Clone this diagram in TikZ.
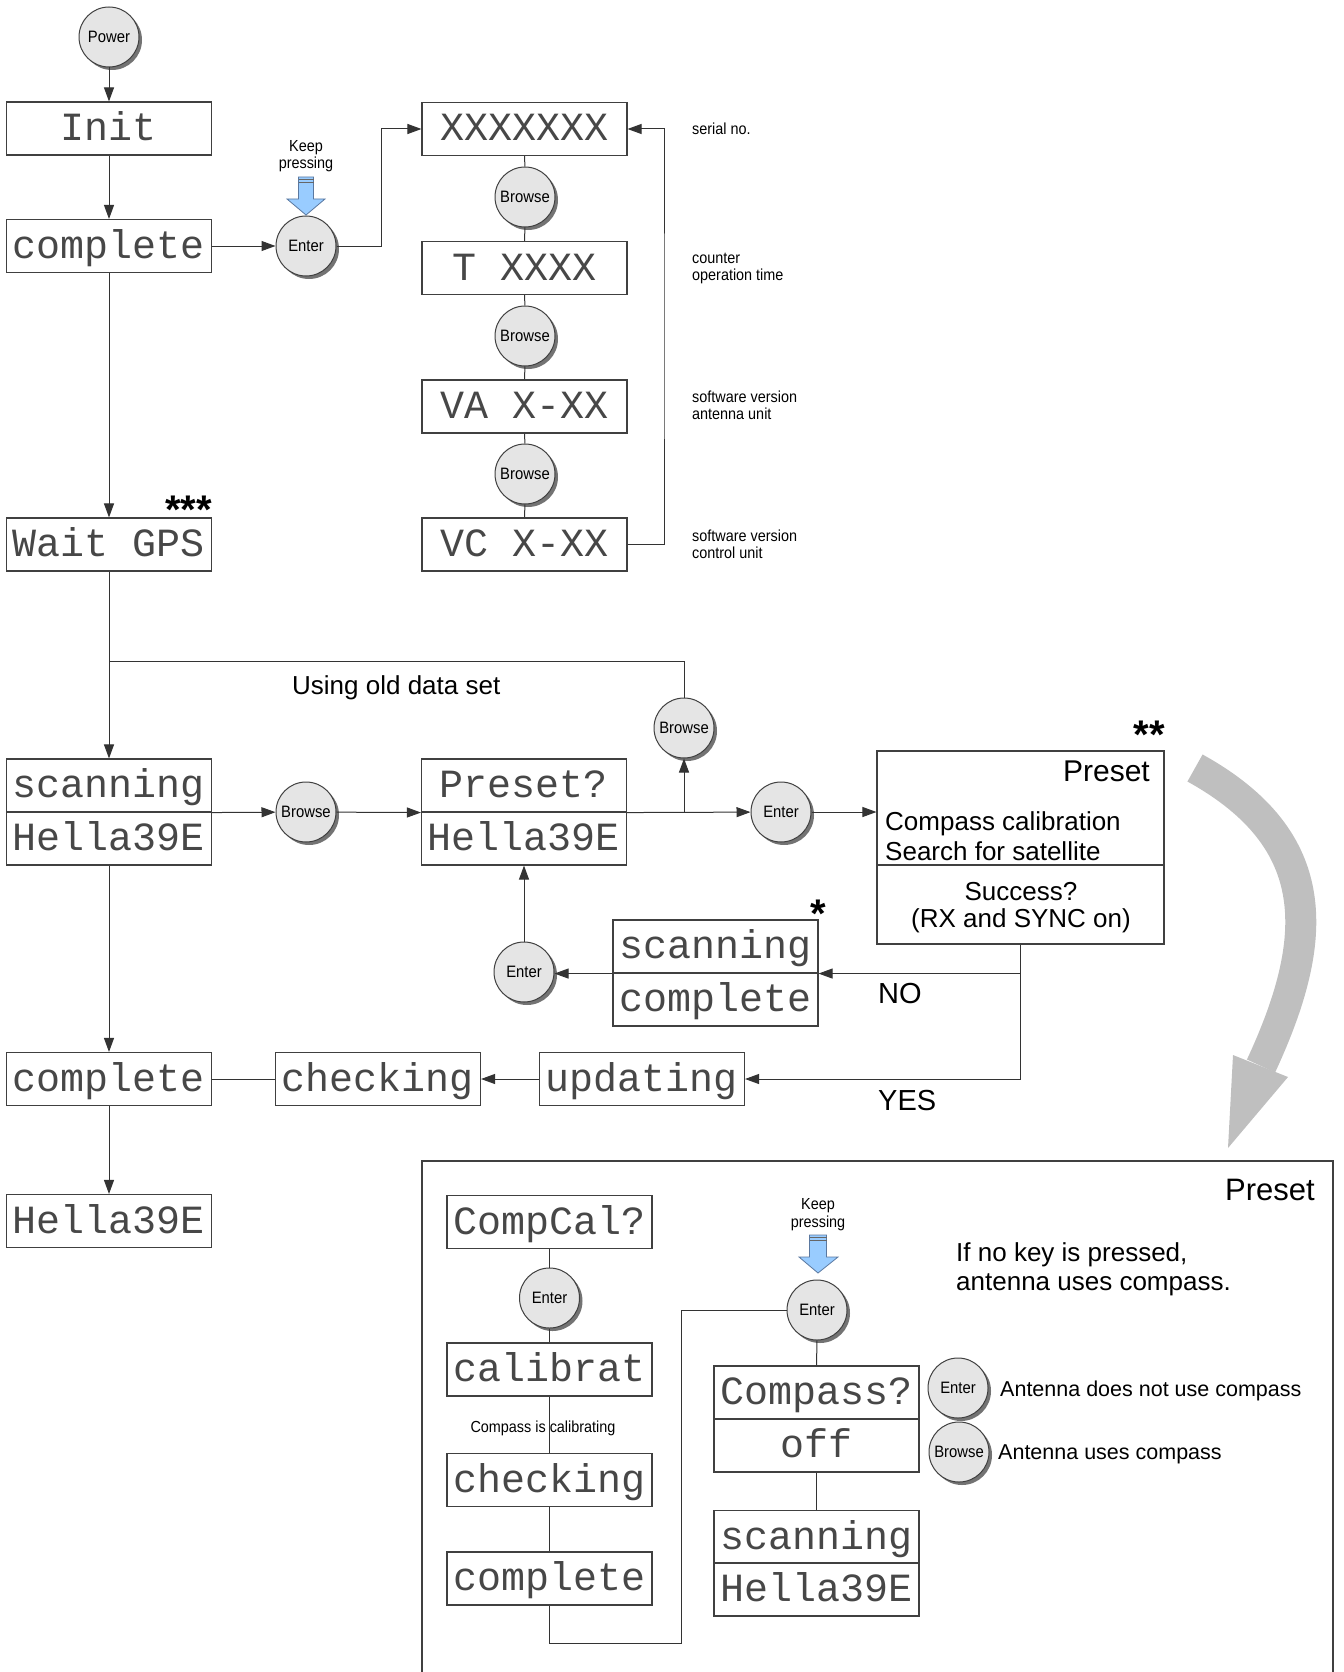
\documentclass[tikz,border=0pt]{standalone}
\usepackage{fontspec}
\setmainfont{Liberation Sans}
\newfontfamily\lcdfont{Liberation Mono}
\newfontfamily\narrowfont[FakeStretch=0.9]{Liberation Sans}
\usetikzlibrary{arrows.meta,shadows,calc}
\definecolor{keyblue}{RGB}{153,204,255}
\definecolor{keyedge}{RGB}{90,120,160}
\newcommand\fsz[1]{\fontsize{#1}{#1}\selectfont}
\newcommand\lowstars[1]{\raisebox{-9pt}[20pt][0pt]{#1}}
\begin{document}
\begin{tikzpicture}[x=1pt,y=-1pt,
  line/.style={draw=black!80,line width=1pt},
  arr/.style={line,-{Triangle[length=14pt,width=10pt]}},
  lcd/.style={draw=black!75,line width=1.1pt,minimum width=205pt,minimum height=53pt,
    inner sep=0pt,text height=30pt,text depth=6pt,font=\lcdfont\fsz{40},text=black!72},
  bigbox/.style={draw=black!75,line width=1.1pt,inner sep=0pt},
  key/.style={circle,draw=black!75,line width=1pt,fill=black!10,minimum size=60pt,
    inner sep=0pt,font=\narrowfont\fsz{16.5},
    drop shadow={shadow xshift=3pt,shadow yshift=-3pt,fill=black!55,opacity=1}},
  lab/.style={inner sep=0pt,font=\narrowfont\fsz{16}},
  txt/.style={inner sep=0pt},
  press/.style={fill=keyblue,draw=keyedge,line width=0.8pt,line join=miter},
  stars/.style={inner sep=0pt,font=\bfseries\fsz{40},anchor=south east}
]
\useasboundingbox (0,0) rectangle (1343,1672);

% ---------- left column ----------
\node[key] (power) at (109,37) {Power};
\node[lcd] (init) at (109,128.5) {Init};
\node[lcd] (comp1) at (109,246) {complete};
\node[lcd] (wait) at (109,544.5) {Wait GPS};
\node[stars] (st3) at (212,515) {\lowstars{***}};
\node[lcd] (scanT) at (109,785.5) {scanning};
\node[lcd] (scanB) at (109,838.5) {Hella39E};
\node[lcd] (comp2) at (109,1079) {complete};
\node[lcd] (hella) at (109,1221) {Hella39E};

% ---------- info loop ----------
\node[key] (ent1) at (306,246) {Enter};
\node[lab,anchor=base] (kp1a) at (306,152) {Keep};
\node[lab,anchor=base] (kp1b) at (306,169) {pressing};
\path[press] (298.5,177) -- (313.5,177) -- (313.5,199) -- (325,199) -- (306,215)
  -- (287,199) -- (298.5,199) -- cycle;
\draw[black!60,line width=0.8pt] (298.5,179.5) -- (313.5,179.5) (298.5,182) -- (313.5,182);

\node[lcd] (ser) at (524.5,129) {XXXXXXX};
\node[key] (brA) at (525,197) {Browse};
\node[lcd] (tx) at (524.5,268) {T XXXX};
\node[key] (brB) at (525,336) {Browse};
\node[lcd] (va) at (524.5,406.5) {VA X-XX};
\node[key] (brC) at (525,474) {Browse};
\node[lcd] (vc) at (524.5,544.5) {VC X-XX};

\node[lab,anchor=base west] (l1) at (692,135) {serial no.};
\node[lab,anchor=base west] (l2) at (692,263) {counter};
\node[lab,anchor=base west] (l3) at (692,280) {operation time};
\node[lab,anchor=base west] (l4) at (692,402) {software version};
\node[lab,anchor=base west] (l5) at (692,419) {antenna unit};
\node[lab,anchor=base west] (l6) at (692,541) {software version};
\node[lab,anchor=base west] (l7) at (692,558) {control unit};

\coordinate (c4) at (381,129);
\coordinate (loopx) at (664,336);

% ---------- middle row ----------
\coordinate (split) at (109,661);
\node[txt,anchor=base west,font=\fsz{26}] (old) at (292,694) {Using old data set};
\node[key] (brD) at (306,812) {Browse};
\node[lcd] (preT) at (524,785.5) {Preset?};
\node[lcd] (preB) at (524,838.5) {Hella39E};
\node[key] (brE) at (684,728) {Browse};
\node[key] (ent2) at (781,812) {Enter};

\node[bigbox,minimum width=287pt,minimum height=114pt] (presetT) at (1020.5,808) {};
\node[bigbox,minimum width=287pt,minimum height=79pt] (presetB) at (1020.5,904.5) {};
\node[stars] (st2) at (1165,740) {\lowstars{**}};
\node[txt,anchor=base east,font=\fsz{30}] (pt1) at (1150,781) {Preset};
\node[txt,anchor=base west,font=\fsz{26}] (pt2) at (885,830) {Compass calibration};
\node[txt,anchor=base west,font=\fsz{26}] (pt3) at (885,860) {Search for satellite};
\node[txt,anchor=base,font=\fsz{26}] (pt4) at (1021,900) {Success?};
\node[txt,anchor=base,font=\fsz{26}] (pt5) at (1021,927) {(RX and SYNC on)};

\node[lcd] (scan2T) at (715.5,946.5) {scanning};
\node[lcd] (scan2B) at (715.5,999.5) {complete};
\node[stars] (st1) at (826,919) {\lowstars{*}};
\node[key] (ent3) at (524,972) {Enter};
\node[txt,anchor=base west,font=\fsz{29}] (no) at (878,1003) {NO};
\node[txt,anchor=base west,font=\fsz{29}] (yes) at (878,1110) {YES};

\node[lcd] (chk) at (378,1079) {checking};
\node[lcd] (upd) at (642,1079) {updating};

% ---------- big grey arrow ----------
\draw[black!25,line width=31pt] (1195,768) .. controls (1325,840) and (1320,939) .. (1261,1066);
\fill[black!25] (1233,1055) -- (1288,1077) -- (1228,1148) -- cycle;

% ---------- bottom preset frame ----------
\draw[draw=black!75,line width=1.1pt] (422,1672) -- (422,1161) -- (1333,1161) -- (1333,1672);
\node[txt,anchor=base east,font=\fsz{31}] (bp) at (1315,1200) {Preset};
\node[txt,anchor=base west,font=\fsz{26}] (nk1) at (956,1261) {If no key is pressed,};
\node[txt,anchor=base west,font=\fsz{26}] (nk2) at (956,1290) {antenna uses compass.};

\node[lcd] (ccal) at (549.5,1222) {CompCal?};
\node[key] (ent4) at (549.5,1298) {Enter};
\node[lcd] (calib) at (549.5,1369.5) {calibrat};
\node[lab,anchor=base] (cic) at (543,1432) {Compass is calibrating};
\node[lcd] (chk2) at (549.5,1480) {checking};
\node[lcd] (comp3) at (549.5,1578.5) {complete};
\coordinate (c22a) at (681,1643);

\node[key] (ent5) at (817,1310) {Enter};
\node[lab,anchor=base] (kp2a) at (818,1209) {Keep};
\node[lab,anchor=base] (kp2b) at (818,1227) {pressing};
\path[press] (809.5,1235) -- (826.5,1235) -- (826.5,1257) -- (838,1257) -- (818,1273)
  -- (799,1257) -- (809.5,1257) -- cycle;
\draw[black!60,line width=0.8pt] (809.5,1237.5) -- (826.5,1237.5) (809.5,1240) -- (826.5,1240);

\node[lcd] (cmpT) at (816.5,1392.5) {Compass?};
\node[lcd] (cmpB) at (816.5,1445.5) {off};
\node[lcd] (scan3T) at (816.5,1537) {scanning};
\node[lcd] (scan3B) at (816.5,1589.5) {Hella39E};

\node[key] (ent6) at (958,1388) {Enter};
\node[key] (brF) at (959,1452) {Browse};
\node[txt,anchor=base west,font=\fsz{21.5}] (lg1) at (1000,1396) {Antenna does not use compass};
\node[txt,anchor=base west,font=\fsz{21.5}] (lg2) at (998,1459) {Antenna uses compass};

% ---------- connectors ----------
\draw[arr] (power) -- (init);
\draw[arr] (init) -- (comp1);
\draw[arr] (comp1) -- (ent1);
\draw[arr] (ent1) -| (c4) -- (ser);
\draw[line] (ser) -- (brA) -- (tx) -- (brB) -- (va) -- (brC) -- (vc);
\draw[arr] (vc.east) -| (loopx) |- (ser.east);
\draw[arr] (comp1) -- (wait);
\draw[arr] (wait) -- (scanT);
\draw[line] (split) -| (brE);
\draw[arr] (scanT.south east) -- (brD);
\draw[arr] (brD) -- (preT.south west);
\draw[arr] (preT.south east) -- (ent2);
\draw[arr] (preT.south east -| brE) -- (brE);
\draw[arr] (ent2) -- (ent2 -| presetT.west);
\draw[arr] (presetB.south) |- (upd.east);
\draw[arr] (presetB.south |- scan2T.south east) -- (scan2T.south east);
\draw[arr] (scan2T.south west) -- (scan2T.south west -| ent3.east);
\draw[arr] (ent3) -- (preB.south);
\draw[arr] (upd) -- (chk);
\draw[line] (chk) -- (comp2);
\draw[arr] (scanB) -- (comp2);
\draw[arr] (comp2) -- (hella);
\draw[line] (ccal) -- (ent4) -- (calib) -- (chk2) -- (comp3);
\draw[line] (comp3.south) |- (c22a) |- (ent5);
\draw[line] (ent5) -- (cmpT);
\draw[line] (cmpB) -- (scan3T);
\end{tikzpicture}
\end{document}
